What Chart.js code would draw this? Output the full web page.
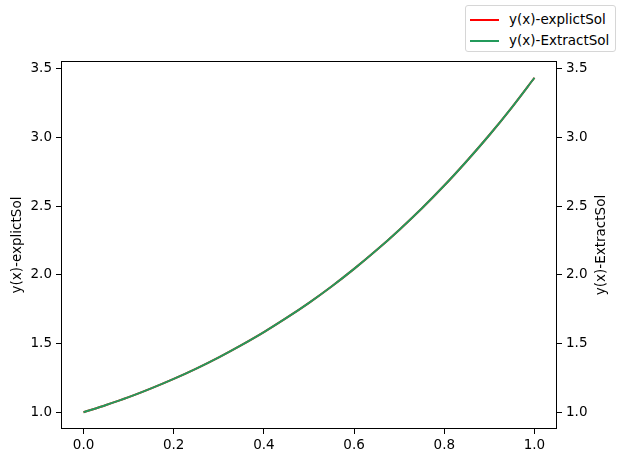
<!DOCTYPE html>
<html>
<head>
<meta charset="utf-8">
<script src="https://cdn.jsdelivr.net/npm/chart.js@4.4.0/dist/chart.umd.min.js"></script>
<style>
  html, body { margin: 0; padding: 0; background: #fff; }
  #wrap { position: relative; width: 624px; height: 463px; }
  #legend {
    position: absolute; left: 465px; top: 5px; width: 151px; height: 47px;
    border: 1px solid #d6d6d6; border-radius: 3px; background: #fff;
    font-family: "DejaVu Sans", sans-serif; font-size: 13.5px; color: #000;
    box-sizing: border-box;
  }
  .item { position: absolute; left: 4px; height: 20px; line-height: 20px; white-space: nowrap; }
  .item span.sw { display: inline-block; width: 29px; height: 2px; vertical-align: middle; margin-right: 10px; }
</style>
</head>
<body>
<div id="wrap">
  <canvas id="myChart" width="624" height="463"></canvas>
  <div id="legend"></div>
</div>
<script>
// values
var xs = [0, 0.05, 0.1, 0.15, 0.2, 0.25, 0.3, 0.35, 0.4, 0.45, 0.5,
          0.55, 0.6, 0.65, 0.7, 0.75, 0.8, 0.85, 0.9, 0.95, 1.0];
var explictSol = [1.000, 1.053, 1.110, 1.174, 1.243, 1.318, 1.400, 1.489, 1.584, 1.687, 1.797,
                  1.916, 2.044, 2.181, 2.328, 2.484, 2.651, 2.830, 3.019, 3.221, 3.436];
var extractSol = [1.000, 1.053, 1.110, 1.174, 1.243, 1.318, 1.400, 1.489, 1.584, 1.687, 1.797,
                  1.916, 2.044, 2.181, 2.328, 2.484, 2.651, 2.830, 3.019, 3.221, 3.436];
var xTicks = [0.0, 0.2, 0.4, 0.6, 0.8, 1.0];
var yTicks = [1.0, 1.5, 2.0, 2.5, 3.0, 3.5];

var RED = '#ff0000';
var GREEN = '#239a5b';
var FONT = { family: 'DejaVu Sans', size: 13.5 };

function pts(ys) {
    return xs.map(function (x, i) { return { x: x, y: ys[i] }; });
}

function fixTicks(list) {
    return function (scale) {
        scale.ticks = list.map(function (v) { return { value: v }; });
    };
}

// spines + rotated axis labels (both read bottom-to-top like matplotlib)
var frame = {
    id: 'frame',
    afterDraw: function (chart) {
        var a = chart.chartArea, c = chart.ctx;
        c.save();
        c.strokeStyle = '#000';
        c.lineWidth = 1;
        c.strokeRect(Math.round(a.left) + 0.5, Math.round(a.top) + 0.5,
                     Math.round(a.right - a.left) - 1, Math.round(a.bottom - a.top) - 1);
        c.fillStyle = '#000';
        c.font = FONT.size + 'px "DejaVu Sans"';
        c.textAlign = 'center';
        c.textBaseline = 'middle';
        var mid = (a.top + a.bottom) / 2;
        [[17, 'y(x)-explictSol'], [601, 'y(x)-ExtractSol']].forEach(function (t) {
            c.save();
            c.translate(t[0], mid);
            c.rotate(-Math.PI / 2);
            c.fillText(t[1], 0, 0);
            c.restore();
        });
        c.restore();
    }
};

var ctx = document.getElementById('myChart');
var myChart = new Chart(ctx, {
    type: 'line',
    data: {
        datasets: [{
            label: 'y(x)-explictSol',
            data: pts(explictSol),
            borderColor: RED,
            borderWidth: 2,
            pointRadius: 0,
            tension: 0.3,
            order: 1,
            yAxisID: 'y'
        }, {
            label: 'y(x)-ExtractSol',
            data: pts(extractSol),
            borderColor: GREEN,
            borderWidth: 2,
            pointRadius: 0,
            tension: 0.3,
            order: 0,
            yAxisID: 'y2'
        }]
    },
    options: {
        responsive: false,
        animation: false,
        layout: { padding: { top: 61, left: 0, right: 0, bottom: 0 } },
        plugins: { legend: { display: false }, tooltip: { enabled: false } },
        scales: {
            x: {
                type: 'linear',
                min: -0.05,
                max: 1.05,
                afterBuildTicks: fixTicks(xTicks),
                afterFit: function (s) { s.height = 34; },
                grid: { drawOnChartArea: false, tickLength: 5, color: '#000' },
                border: { display: false },
                ticks: { color: '#000', font: FONT, padding: 3, maxRotation: 0,
                         callback: function (v) { return v.toFixed(1); } }
            },
            y: {
                position: 'left',
                min: 0.878,
                max: 3.558,
                afterBuildTicks: fixTicks(yTicks),
                afterFit: function (s) { s.width = 61; },
                grid: { drawOnChartArea: false, tickLength: 5, color: '#000' },
                border: { display: false },
                ticks: { color: '#000', font: FONT, padding: 4,
                         callback: function (v) { return v.toFixed(1); } }
            },
            y2: {
                position: 'right',
                min: 0.878,
                max: 3.558,
                afterBuildTicks: fixTicks(yTicks),
                afterFit: function (s) { s.width = 67; },
                grid: { drawOnChartArea: false, tickLength: 5, color: '#000' },
                border: { display: false },
                ticks: { color: '#000', font: FONT, padding: 4,
                         callback: function (v) { return v.toFixed(1); } }
            }
        }
    },
    plugins: [frame]
});

// legend built from the datasets
var leg = document.getElementById('legend');
myChart.data.datasets.forEach(function (ds, i) {
    var d = document.createElement('div');
    d.className = 'item';
    d.style.top = (3 + i * 21) + 'px';
    d.innerHTML = '<span class="sw" style="background:' + ds.borderColor + '"></span>' + ds.label;
    leg.appendChild(d);
});
</script>
</body>
</html>
